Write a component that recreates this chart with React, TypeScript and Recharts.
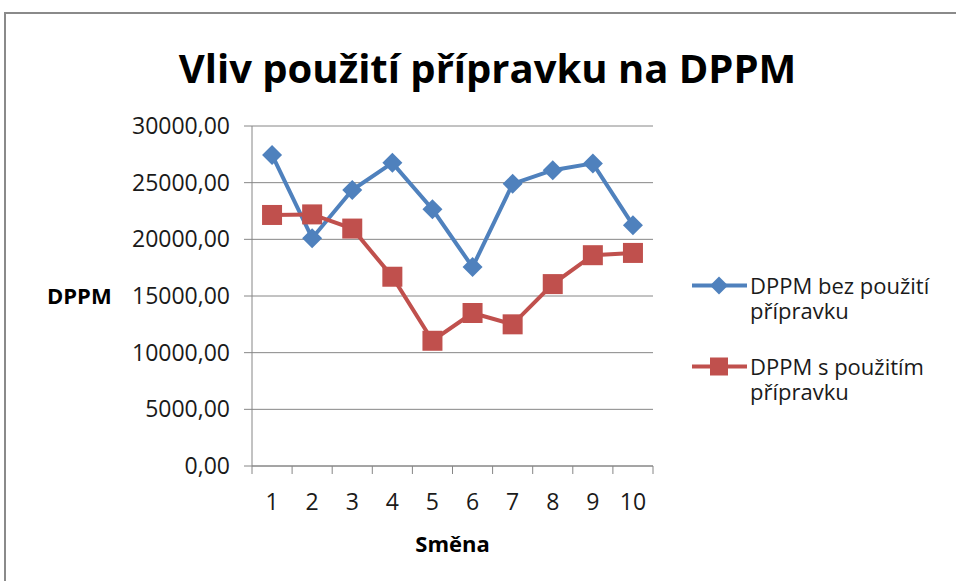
import { LineChart, Line, XAxis, YAxis, CartesianGrid, Legend } from "recharts";

const categories = ["1", "2", "3", "4", "5", "6", "7", "8", "9", "10"];
const bezPouziti = [27450, 20100, 24350, 26750, 22650, 17550, 24900, 26100, 26700, 21250];
const sPouzitim = [22150, 22200, 20950, 16700, 11050, 13500, 12500, 16050, 18600, 18800];
const yTicks = [0, 5000, 10000, 15000, 20000, 25000, 30000];

const BLUE = "#4F81BD";
const RED = "#C0504D";
const AXIS = "#868686";
const FONT = "'Open Sans', sans-serif";

const W = 956;
const H = 581;
const margin = { top: 126, right: 303, bottom: 25, left: 0 };
const Y_AXIS_W = 252;
const X_AXIS_H = 90;
const band = (W - margin.left - margin.right - Y_AXIS_W) / categories.length;

const data = categories.map((c, i) => ({ smena: c, bez: bezPouziti[i], s: sPouzitim[i] }));

const fmt = (v: number) => v.toFixed(2).replace(".", ",");

function Diamond({ cx, cy, size, color }: any) {
  if (cx == null || cy == null) return null;
  const r = size;
  return <path d={`M${cx},${cy - r} L${cx + r},${cy} L${cx},${cy + r} L${cx - r},${cy} Z`} fill={color} />;
}

function Square({ cx, cy, size, color }: any) {
  if (cx == null || cy == null) return null;
  return <rect x={cx - size} y={cy - size} width={size * 2} height={size * 2} fill={color} />;
}

function XTick({ x, y, payload, index }: any) {
  const last = index === categories.length - 1;
  return (
    <g>
      <line x1={x - band / 2} x2={x - band / 2} y1={y} y2={y + 8} stroke={AXIS} />
      {last && <line x1={x + band / 2} x2={x + band / 2} y1={y} y2={y + 8} stroke={AXIS} />}
      <text x={x} y={y + 44} textAnchor="middle" fontSize={23} fill="#1a1a1a" fontFamily={FONT}>
        {payload.value}
      </text>
    </g>
  );
}

function LegendBox({ payload }: any) {
  return (
    <div style={{ fontFamily: FONT, fontSize: 22, color: "#1a1a1a" }}>
      {(payload || []).map((p: any, i: number) => (
        <div key={i} style={{ display: "flex", alignItems: "flex-start", marginBottom: 31 }}>
          <svg width={60} height={25} style={{ flex: "none" }}>
            <line x1={2} x2={57} y1={12.5} y2={12.5} stroke={p.color} strokeWidth={4} />
            {i === 0 ? (
              <Diamond cx={29} cy={12.5} size={9} color={p.color} />
            ) : (
              <Square cx={29} cy={12.5} size={9} color={p.color} />
            )}
          </svg>
          <div style={{ width: 195, lineHeight: "25px" }}>{p.value}</div>
        </div>
      ))}
    </div>
  );
}

export default function App() {
  return (
    <div style={{ position: "absolute", left: 0, top: 0, width: W, height: H, background: "#fff", overflow: "hidden" }}>
      <div
        style={{
          position: "absolute",
          left: 4,
          top: 12,
          right: -10,
          bottom: -10,
          borderTop: "2px solid #8a8a8a",
          borderLeft: "2px solid #8a8a8a",
        }}
      />
      <div
        style={{
          position: "absolute",
          left: 0,
          width: 975,
          top: 40,
          textAlign: "center",
          fontFamily: FONT,
          fontWeight: 700,
          fontSize: 40,
          color: "#000",
        }}
      >
        Vliv použití přípravku na DPPM
      </div>
      <LineChart width={W} height={H} data={data} margin={margin}>
        <CartesianGrid horizontal vertical={false} stroke={AXIS} strokeWidth={1} />
        <XAxis
          dataKey="smena"
          height={X_AXIS_H}
          stroke={AXIS}
          tickLine={false}
          tickSize={0}
          tickMargin={0}
          interval={0}
          padding={{ left: band / 2, right: band / 2 }}
          tick={<XTick />}
          label={{ value: "Směna", position: "insideBottom", offset: 4, fontFamily: FONT, fontSize: 22, fontWeight: 700, fill: "#000" }}
        />
        <YAxis
          width={Y_AXIS_W}
          domain={[0, 30000]}
          ticks={yTicks}
          tickFormatter={fmt}
          stroke={AXIS}
          tickSize={8}
          tickMargin={14}
          tick={{ fontFamily: FONT, fontSize: 23, fill: "#1a1a1a" }}
          label={{ value: "DPPM", position: "insideLeft", offset: 47, fontFamily: FONT, fontSize: 22, fontWeight: 700, fill: "#000" }}
        />
        <Legend
          layout="horizontal"
          verticalAlign="middle"
          align="center"
          content={<LegendBox />}
          wrapperStyle={{ position: "absolute", left: 690, top: 273, width: 260 }}
        />
        <Line
          name="DPPM bez použití přípravku"
          dataKey="bez"
          stroke={BLUE}
          strokeWidth={4}
          dot={<Diamond size={10} color={BLUE} />}
          activeDot={false}
          isAnimationActive={false}
        />
        <Line
          name="DPPM s použitím přípravku"
          dataKey="s"
          stroke={RED}
          strokeWidth={4}
          dot={<Square size={10} color={RED} />}
          activeDot={false}
          isAnimationActive={false}
        />
      </LineChart>
    </div>
  );
}
